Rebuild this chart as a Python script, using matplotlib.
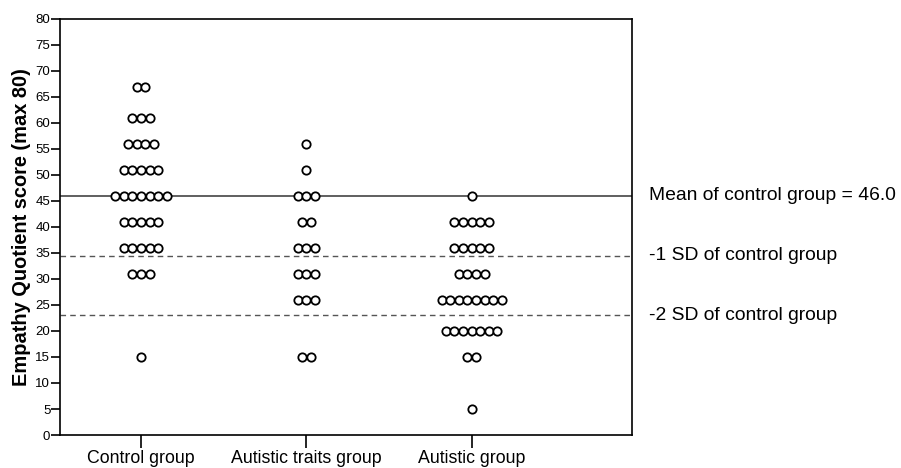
import numpy as np
import matplotlib
matplotlib.use("Agg")
from matplotlib import pyplot as plt

plt.rcParams['font.family'] = ['Liberation Sans', 'DejaVu Sans']

# groups on the x axis
groups = ["Control group", "Autistic traits group", "Autistic group"]

# EQ score rows (value, number of participants at that value) per group
control_scores = [67, 61, 56, 51, 46, 41, 36, 31, 15]
control_counts = [2, 3, 4, 5, 7, 5, 5, 3, 1]

traits_scores = [56, 51, 46, 41, 36, 31, 26, 15]
traits_counts = [1, 1, 3, 2, 3, 3, 3, 2]

autistic_scores = [46, 41, 36, 31, 26, 20, 15, 5]
autistic_counts = [1, 5, 5, 4, 8, 7, 2, 1]

control_mean = 46.0
control_sd = 11.5

ref_labels = ["Mean of control group = 46.0",
              "-1 SD of control group",
              "-2 SD of control group"]


def dot_positions(center, scores, counts, step=0.052):
    xs, ys = [], []
    for s, n in zip(scores, counts):
        offs = (np.arange(n) - (n - 1) / 2.0) * step
        xs.extend(center + offs)
        ys.extend([s] * n)
    return xs, ys


fig = plt.figure(figsize=(9.01, 4.68), dpi=100)
ax = fig.add_axes([0.0666, 0.0705, 0.6348, 0.889])

all_data = [(control_scores, control_counts),
            (traits_scores, traits_counts),
            (autistic_scores, autistic_counts)]
for i, (sc, cn) in enumerate(all_data):
    xs, ys = dot_positions(i + 1, sc, cn)
    ax.scatter(xs, ys, s=36, facecolors='white', edgecolors='black',
               linewidths=1.3, zorder=3)

levels = [control_mean, control_mean - control_sd, control_mean - 2 * control_sd]
ax.axhline(levels[0], color='#444444', lw=1.2, zorder=2)
ax.axhline(levels[1], color='#555555', lw=1.0, ls=(0, (4, 3)), zorder=2)
ax.axhline(levels[2], color='#555555', lw=1.0, ls=(0, (4, 3)), zorder=2)

for lv, txt in zip(levels, ref_labels):
    ax.text(1.03, lv, txt, transform=ax.get_yaxis_transform(),
            va='center', ha='left', fontsize=13.9, clip_on=False)

ax.set_xlim(0.51, 3.97)
ax.set_ylim(0, 80)
ax.set_yticks(np.arange(0, 81, 5))
ax.set_xticks([1, 2, 3])
ax.set_xticklabels(groups, fontsize=12.8)
ax.tick_params(axis='y', labelsize=9.5, length=6.5, width=1.2, pad=0.5)
ax.tick_params(axis='x', length=9, width=1.2, pad=2)
for sp in ax.spines.values():
    sp.set_linewidth(1.2)

ax.set_ylabel("Empathy Quotient score (max 80)", fontsize=14.4,
              fontweight='bold', labelpad=3)

fig.savefig("out.png", dpi=100)
